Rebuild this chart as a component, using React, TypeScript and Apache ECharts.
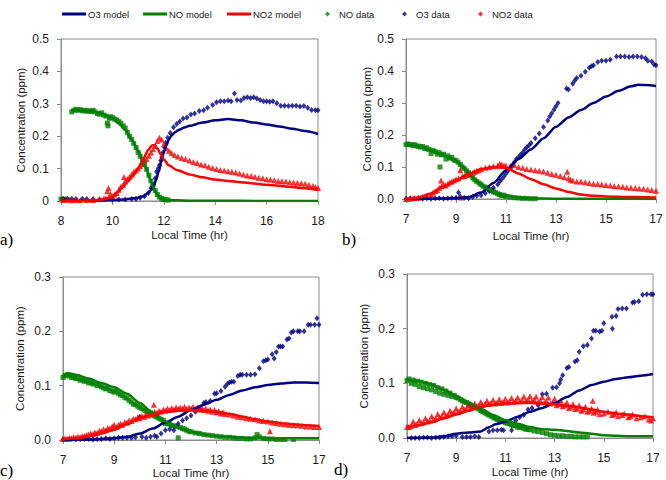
import React, { useEffect, useRef } from "react";
import * as echarts from "echarts";

// ---- colours ----
const NAVY = "#000080";
const GREEN = "#008000";
const RED = "#ff0000";

// ---- axis ticks ----
const X_TICKS_A = [8, 10, 12, 14, 16, 18];
const X_TICKS_BCD = [7, 9, 11, 13, 15, 17];
const Y_TICKS_AB = [0, 0.1, 0.2, 0.3, 0.4, 0.5];
const Y_TICKS_CD = [0, 0.1, 0.2, 0.3];

// ---- panel a ----
const A_O3_MODEL = [[8,0],[8.5,0.001],[9,0.001],[9.5,0.002],[10,0.003],[10.5,0.005],[11,0.01],[11.2,0.015],[11.4,0.025],[11.5,0.033],[11.6,0.045],[11.7,0.065],[11.8,0.09],[11.9,0.12],[12,0.15],[12.1,0.172],[12.2,0.19],[12.3,0.202],[12.45,0.213],[12.6,0.22],[12.8,0.227],[13,0.232],[13.5,0.242],[14,0.249],[14.5,0.253],[15,0.249],[15.5,0.242],[16,0.236],[16.5,0.23],[17,0.223],[17.5,0.216],[18,0.207]];
const A_NO_MODEL = [[8.4,0.28],[8.75,0.28],[9,0.278],[9.5,0.272],[9.75,0.265],[10,0.255],[10.25,0.24],[10.5,0.22],[10.75,0.19],[11,0.155],[11.15,0.132],[11.3,0.105],[11.45,0.07],[11.6,0.04],[11.75,0.018],[11.9,0.007],[12.1,0.003],[12.5,0.002],[13,0.001],[14,0.001],[16,0],[18,0]];
const A_NO2_MODEL = [[8,0],[9,0.001],[9.5,0.003],[9.8,0.008],[10,0.014],[10.2,0.027],[10.4,0.044],[10.6,0.06],[10.8,0.078],[11,0.1],[11.2,0.13],[11.4,0.158],[11.55,0.172],[11.65,0.172],[11.75,0.162],[11.9,0.142],[12,0.128],[12.2,0.11],[12.5,0.096],[13,0.082],[13.5,0.073],[14,0.066],[14.5,0.062],[15,0.058],[15.5,0.054],[16,0.05],[16.5,0.047],[17,0.043],[17.5,0.039],[18,0.034]];
const A_NO_DATA = [[8.0,0.006],[8.08,0.005],[8.17,0.006],[8.25,0.004],[8.42,0.275],[8.5,0.28],[8.58,0.283],[8.67,0.28],[8.75,0.282],[8.83,0.278],[8.92,0.28],[9.0,0.277],[9.08,0.279],[9.17,0.276],[9.25,0.28],[9.33,0.275],[9.42,0.27],[9.5,0.268],[9.58,0.272],[9.67,0.265],[9.75,0.262],[9.8,0.24],[9.83,0.232],[9.88,0.255],[9.92,0.26],[10.0,0.258],[10.08,0.253],[10.17,0.25],[10.25,0.245],[10.33,0.24],[10.42,0.232],[10.5,0.225],[10.58,0.212],[10.67,0.2],[10.75,0.19],[10.83,0.178],[10.92,0.165],[11.0,0.15],[11.08,0.138],[11.17,0.128],[11.25,0.112],[11.33,0.098],[11.42,0.08],[11.5,0.062],[11.58,0.045],[11.67,0.032],[11.75,0.02],[11.83,0.012],[11.92,0.008],[12.0,0.005],[12.08,0.004],[12.17,0.003]];
const A_O3_DATA = [[8.08,0.006],[8.25,0.006],[8.42,0.007],[8.58,0.006],[8.83,0.007],[9.0,0.006],[9.25,0.006],[9.5,0.005],[9.75,0.006],[10.0,0.004],[10.25,0.005],[10.5,0.005],[10.75,0.006],[10.92,0.006],[11.08,0.01],[11.25,0.015],[11.4,0.025],[11.5,0.04],[11.58,0.05],[11.67,0.07],[11.72,0.09],[11.78,0.1],[11.83,0.11],[11.88,0.125],[11.92,0.135],[11.97,0.15],[12.03,0.165],[12.08,0.18],[12.15,0.195],[12.25,0.21],[12.38,0.228],[12.5,0.238],[12.62,0.245],[12.75,0.255],[12.9,0.258],[13.05,0.267],[13.2,0.27],[13.38,0.278],[13.55,0.28],[13.7,0.288],[13.9,0.296],[14.05,0.305],[14.2,0.308],[14.35,0.308],[14.5,0.31],[14.62,0.308],[14.75,0.332],[14.85,0.312],[15.0,0.31],[15.12,0.318],[15.25,0.32],[15.38,0.318],[15.5,0.32],[15.62,0.316],[15.75,0.312],[15.88,0.308],[16.0,0.308],[16.12,0.306],[16.25,0.308],[16.4,0.302],[16.55,0.294],[16.7,0.294],[16.85,0.293],[17.0,0.294],[17.15,0.294],[17.3,0.292],[17.45,0.293],[17.6,0.288],[17.75,0.281],[17.9,0.28],[18.0,0.28]];
const A_NO2_DATA = [[8.08,0.003],[8.25,0.004],[8.42,0.002],[8.58,0.003],[8.75,0.002],[9.0,0.003],[9.25,0.003],[9.5,0.006],[9.67,0.008],[9.8,0.03],[9.85,0.04],[9.92,0.022],[10.0,0.015],[10.08,0.02],[10.17,0.025],[10.25,0.035],[10.33,0.045],[10.42,0.05],[10.45,0.074],[10.5,0.06],[10.58,0.068],[10.67,0.075],[10.75,0.082],[10.83,0.09],[10.92,0.095],[11.0,0.1],[11.08,0.108],[11.17,0.115],[11.25,0.125],[11.33,0.13],[11.42,0.14],[11.5,0.15],[11.58,0.16],[11.67,0.17],[11.75,0.185],[11.83,0.195],[11.92,0.19],[12.0,0.175],[12.1,0.163],[12.2,0.155],[12.3,0.148],[12.42,0.142],[12.55,0.137],[12.7,0.133],[12.85,0.13],[13.0,0.125],[13.15,0.12],[13.3,0.117],[13.45,0.113],[13.6,0.11],[13.75,0.106],[13.9,0.102],[14.05,0.099],[14.2,0.096],[14.35,0.094],[14.5,0.092],[14.65,0.09],[14.8,0.088],[14.95,0.085],[15.1,0.082],[15.25,0.079],[15.4,0.077],[15.55,0.075],[15.7,0.072],[15.85,0.07],[16.0,0.067],[16.15,0.066],[16.3,0.064],[16.45,0.062],[16.6,0.061],[16.75,0.06],[16.9,0.058],[17.05,0.057],[17.2,0.056],[17.35,0.055],[17.5,0.053],[17.65,0.05],[17.8,0.046],[17.9,0.043],[18.0,0.04]];

// ---- panel b ----
const B_O3_MODEL = [[7,0],[8,0.001],[9,0.002],[9.5,0.006],[10,0.02],[10.5,0.05],[11,0.09],[11.5,0.125],[12,0.155],[12.5,0.19],[13,0.226],[13.5,0.255],[14,0.278],[14.5,0.3],[15,0.32],[15.5,0.338],[16,0.352],[16.3,0.357],[16.6,0.356],[17,0.353]];
const B_NO_MODEL = [[7,0.172],[7.5,0.163],[8,0.152],[8.5,0.137],[9,0.118],[9.25,0.103],[9.5,0.083],[9.75,0.062],[10,0.045],[10.25,0.032],[10.5,0.022],[11,0.011],[11.5,0.005],[12,0.002],[13,0.001],[17,0]];
const B_NO2_MODEL = [[7,0.001],[7.5,0.005],[8,0.017],[8.5,0.038],[9,0.058],[9.5,0.078],[10,0.093],[10.5,0.1],[11,0.097],[11.5,0.08],[12,0.062],[12.5,0.046],[13,0.033],[13.5,0.022],[14,0.014],[14.5,0.01],[15,0.008],[16,0.006],[17,0.005]];
const B_NO_DATA = [[7.0,0.17],[7.08,0.172],[7.17,0.17],[7.25,0.168],[7.33,0.17],[7.42,0.166],[7.5,0.165],[7.58,0.162],[7.67,0.164],[7.75,0.158],[7.83,0.16],[7.92,0.155],[8.0,0.142],[8.08,0.152],[8.17,0.148],[8.25,0.14],[8.33,0.145],[8.36,0.1],[8.42,0.138],[8.5,0.14],[8.6,0.125],[8.67,0.135],[8.75,0.128],[8.83,0.13],[8.92,0.122],[9.0,0.12],[9.08,0.115],[9.17,0.108],[9.25,0.1],[9.33,0.095],[9.42,0.088],[9.5,0.082],[9.58,0.074],[9.67,0.066],[9.75,0.06],[9.83,0.055],[9.92,0.05],[10.0,0.045],[10.08,0.04],[10.17,0.037],[10.25,0.033],[10.33,0.03],[10.42,0.026],[10.5,0.022],[10.58,0.02],[10.67,0.016],[10.75,0.014],[10.83,0.01],[10.92,0.012],[11.0,0.008],[11.17,0.006],[11.33,0.004],[11.5,0.003],[11.67,0.002],[11.83,0.002],[12.0,0.001],[12.17,0.001]];
const B_O3_DATA = [[7.0,0.001],[7.17,0.002],[7.33,0.001],[7.5,0.002],[7.67,0.001],[7.83,0.002],[8.0,0.001],[8.17,0.002],[8.33,0.002],[8.5,0.001],[8.67,0.002],[8.83,0.003],[9.0,0.004],[9.1,0.02],[9.17,0.008],[9.33,0.004],[9.5,0.002],[9.67,0.006],[9.83,0.01],[10.0,0.012],[10.17,0.018],[10.33,0.025],[10.5,0.035],[10.67,0.045],[10.75,0.055],[10.83,0.062],[10.92,0.07],[11.0,0.08],[11.08,0.088],[11.17,0.097],[11.25,0.105],[11.33,0.115],[11.42,0.125],[11.5,0.13],[11.58,0.138],[11.67,0.145],[11.75,0.155],[11.83,0.162],[11.92,0.168],[12.0,0.175],[12.17,0.19],[12.33,0.205],[12.5,0.225],[12.67,0.245],[12.75,0.258],[12.83,0.268],[12.92,0.28],[13.0,0.29],[13.08,0.3],[13.42,0.345],[13.5,0.342],[13.67,0.36],[13.75,0.37],[13.83,0.378],[14.0,0.385],[14.17,0.398],[14.33,0.41],[14.42,0.415],[14.5,0.418],[14.67,0.428],[14.83,0.432],[15.0,0.432],[15.17,0.435],[15.42,0.445],[15.58,0.445],[15.75,0.445],[15.92,0.444],[16.08,0.445],[16.25,0.445],[16.42,0.444],[16.58,0.44],[16.67,0.432],[16.83,0.43],[16.92,0.42],[17.0,0.418]];
const B_NO2_DATA = [[7.0,0.0],[7.17,0.001],[7.33,0.003],[7.5,0.004],[7.67,0.006],[7.83,0.01],[8.0,0.015],[8.08,0.02],[8.17,0.025],[8.25,0.028],[8.33,0.035],[8.4,0.058],[8.42,0.04],[8.5,0.045],[8.58,0.042],[8.67,0.048],[8.75,0.052],[8.83,0.055],[8.92,0.058],[9.0,0.062],[9.1,0.065],[9.17,0.09],[9.2,0.005],[9.25,0.07],[9.33,0.072],[9.42,0.075],[9.5,0.078],[9.58,0.08],[9.67,0.082],[9.75,0.085],[9.83,0.088],[9.92,0.09],[10.0,0.094],[10.17,0.098],[10.33,0.1],[10.5,0.102],[10.67,0.105],[10.75,0.11],[10.83,0.108],[10.92,0.104],[11.0,0.105],[11.17,0.103],[11.33,0.106],[11.5,0.1],[11.67,0.098],[11.83,0.094],[12.0,0.092],[12.17,0.09],[12.33,0.088],[12.5,0.086],[12.67,0.082],[12.83,0.078],[13.0,0.076],[13.17,0.072],[13.33,0.068],[13.45,0.085],[13.5,0.065],[13.58,0.06],[13.67,0.058],[13.83,0.055],[14.0,0.055],[14.17,0.052],[14.33,0.05],[14.5,0.048],[14.67,0.047],[14.83,0.045],[15.0,0.044],[15.17,0.042],[15.33,0.04],[15.5,0.04],[15.67,0.038],[15.83,0.036],[16.0,0.035],[16.17,0.034],[16.33,0.033],[16.5,0.032],[16.67,0.03],[16.83,0.028],[17.0,0.026]];

// ---- panel c ----
const C_O3_MODEL = [[7,0],[8,0.001],[9,0.003],[9.5,0.006],[10,0.012],[10.5,0.021],[11,0.032],[11.5,0.043],[12,0.055],[12.5,0.065],[13,0.074],[13.5,0.083],[14,0.091],[14.5,0.097],[15,0.101],[15.5,0.104],[16,0.106],[16.5,0.106],[17,0.105]];
const C_NO_MODEL = [[7,0.12],[7.2,0.123],[7.5,0.12],[8,0.113],[8.5,0.105],[9,0.097],[9.5,0.085],[10,0.068],[10.5,0.05],[11,0.034],[11.5,0.023],[12,0.015],[12.5,0.01],[13,0.007],[14,0.004],[15,0.003],[16,0.003],[17,0.003]];
const C_NO2_MODEL = [[7,0.001],[7.5,0.003],[8,0.007],[8.5,0.012],[9,0.019],[9.5,0.029],[10,0.04],[10.5,0.047],[11,0.052],[11.5,0.054],[12,0.055],[12.5,0.054],[13,0.052],[13.5,0.048],[14,0.043],[14.5,0.038],[15,0.034],[15.5,0.031],[16,0.029],[16.5,0.027],[17,0.026]];
const C_NO_DATA = [[7.0,0.115],[7.08,0.118],[7.17,0.12],[7.25,0.118],[7.33,0.115],[7.42,0.116],[7.5,0.113],[7.58,0.114],[7.67,0.11],[7.75,0.111],[7.83,0.108],[7.92,0.109],[8.0,0.105],[8.08,0.106],[8.17,0.103],[8.25,0.104],[8.33,0.1],[8.42,0.101],[8.5,0.098],[8.58,0.096],[8.67,0.094],[8.75,0.095],[8.83,0.091],[8.92,0.09],[9.0,0.088],[9.08,0.09],[9.17,0.086],[9.25,0.083],[9.33,0.082],[9.42,0.078],[9.5,0.077],[9.58,0.073],[9.67,0.07],[9.75,0.066],[9.83,0.065],[9.92,0.062],[10.0,0.06],[10.08,0.058],[10.17,0.055],[10.25,0.053],[10.33,0.052],[10.42,0.05],[10.5,0.046],[10.58,0.044],[10.67,0.042],[10.75,0.04],[10.83,0.038],[10.92,0.036],[11.0,0.03],[11.08,0.031],[11.17,0.029],[11.25,0.027],[11.33,0.026],[11.42,0.025],[11.5,0.004],[11.58,0.023],[11.67,0.021],[11.75,0.02],[11.83,0.018],[11.92,0.016],[12.0,0.015],[12.17,0.013],[12.33,0.012],[12.5,0.01],[12.67,0.009],[12.83,0.008],[13.0,0.007],[13.17,0.006],[13.33,0.005],[13.5,0.005],[13.67,0.004],[13.83,0.003],[14.0,0.003],[14.17,0.002],[14.33,0.002],[14.5,0.004],[14.58,0.01],[14.67,0.006],[14.83,0.003],[15.0,0.002],[15.17,0.002],[15.33,0.001],[15.5,0.001],[15.67,0.001],[16.0,0.001]];
const C_O3_DATA = [[7.0,0.001],[7.17,0.001],[7.33,0.002],[7.5,0.001],[7.67,0.002],[7.83,0.002],[8.0,0.002],[8.17,0.001],[8.33,0.002],[8.5,0.002],[8.67,0.003],[8.83,0.002],[9.0,0.003],[9.17,0.004],[9.33,0.004],[9.5,0.004],[9.67,0.004],[9.83,0.005],[10.0,0.043],[10.08,0.006],[10.25,0.004],[10.42,0.006],[10.58,0.008],[10.67,0.006],[10.83,0.012],[11.0,0.018],[11.17,0.02],[11.33,0.018],[11.5,0.03],[11.67,0.036],[11.83,0.04],[12.0,0.045],[12.17,0.052],[12.33,0.058],[12.5,0.068],[12.58,0.07],[12.75,0.072],[12.92,0.085],[13.0,0.086],[13.17,0.09],[13.33,0.098],[13.42,0.103],[13.5,0.106],[13.58,0.107],[13.67,0.107],[13.83,0.118],[13.92,0.12],[14.0,0.12],[14.17,0.12],[14.33,0.12],[14.5,0.121],[14.67,0.132],[14.83,0.145],[14.92,0.147],[15.0,0.148],[15.17,0.158],[15.25,0.15],[15.33,0.162],[15.42,0.172],[15.5,0.172],[15.58,0.172],[15.75,0.185],[15.83,0.187],[15.92,0.198],[16.0,0.2],[16.17,0.2],[16.25,0.2],[16.42,0.2],[16.58,0.212],[16.67,0.212],[16.83,0.212],[16.92,0.224],[17.0,0.212]];
const C_NO2_DATA = [[7.0,0.002],[7.08,0.003],[7.17,0.002],[7.25,0.004],[7.33,0.003],[7.42,0.005],[7.5,0.004],[7.58,0.006],[7.67,0.005],[7.75,0.007],[7.83,0.008],[7.92,0.009],[8.0,0.01],[8.08,0.012],[8.17,0.011],[8.25,0.014],[8.33,0.013],[8.42,0.017],[8.5,0.016],[8.58,0.02],[8.67,0.018],[8.75,0.022],[8.83,0.021],[8.92,0.025],[9.0,0.028],[9.08,0.024],[9.17,0.028],[9.25,0.03],[9.33,0.028],[9.42,0.033],[9.5,0.032],[9.58,0.036],[9.67,0.035],[9.75,0.039],[9.83,0.038],[9.92,0.042],[10.0,0.04],[10.08,0.044],[10.17,0.043],[10.25,0.047],[10.33,0.045],[10.42,0.05],[10.5,0.048],[10.55,0.065],[10.58,0.052],[10.67,0.05],[10.75,0.054],[10.83,0.052],[10.92,0.056],[11.0,0.054],[11.08,0.058],[11.17,0.055],[11.25,0.059],[11.33,0.056],[11.42,0.06],[11.5,0.057],[11.58,0.06],[11.67,0.058],[11.75,0.061],[11.83,0.057],[11.92,0.06],[12.0,0.058],[12.08,0.061],[12.17,0.057],[12.25,0.06],[12.33,0.056],[12.42,0.059],[12.5,0.055],[12.58,0.058],[12.67,0.054],[12.75,0.056],[12.83,0.052],[12.92,0.055],[13.0,0.051],[13.08,0.053],[13.17,0.049],[13.25,0.051],[13.33,0.048],[13.5,0.047],[13.67,0.045],[13.83,0.043],[14.0,0.042],[14.17,0.04],[14.33,0.039],[14.5,0.038],[14.67,0.036],[14.83,0.035],[15.0,0.034],[15.08,0.016],[15.17,0.032],[15.33,0.031],[15.5,0.03],[15.67,0.029],[15.83,0.028],[16.0,0.027],[16.17,0.027],[16.33,0.026],[16.5,0.025],[16.67,0.025],[16.83,0.024],[17.0,0.024]];

// ---- panel d ----
const D_O3_MODEL = [[7,0],[8,0.001],[8.5,0.003],[9,0.008],[9.5,0.01],[10,0.012],[10.3,0.019],[10.6,0.025],[11,0.03],[11.5,0.039],[12,0.048],[12.5,0.055],[13,0.064],[13.5,0.075],[14,0.087],[14.5,0.097],[15,0.103],[15.5,0.108],[16,0.111],[16.5,0.114],[17,0.117]];
const D_NO_MODEL = [[7,0.107],[7.5,0.104],[8,0.098],[8.5,0.088],[9,0.077],[9.5,0.065],[10,0.053],[10.5,0.042],[11,0.033],[11.5,0.026],[12,0.02],[12.5,0.016],[13,0.015],[13.5,0.013],[14,0.01],[14.5,0.008],[15,0.005],[15.5,0.004],[16,0.003],[17,0.003]];
const D_NO2_MODEL = [[7,0.02],[7.5,0.024],[8,0.029],[8.5,0.036],[9,0.043],[9.5,0.05],[10,0.057],[10.5,0.061],[11,0.063],[11.5,0.064],[12,0.064],[12.5,0.063],[13,0.062],[13.5,0.059],[14,0.056],[14.5,0.052],[15,0.048],[15.5,0.045],[16,0.043],[16.5,0.04],[17,0.038]];
const D_NO_DATA = [[7.0,0.105],[7.08,0.108],[7.17,0.1],[7.25,0.106],[7.33,0.098],[7.42,0.104],[7.5,0.094],[7.58,0.102],[7.67,0.092],[7.75,0.1],[7.83,0.09],[7.92,0.098],[8.0,0.088],[8.08,0.096],[8.17,0.085],[8.25,0.092],[8.33,0.082],[8.42,0.09],[8.5,0.08],[8.58,0.086],[8.67,0.078],[8.75,0.082],[8.83,0.076],[8.92,0.078],[9.0,0.074],[9.08,0.073],[9.17,0.07],[9.25,0.068],[9.33,0.066],[9.42,0.065],[9.5,0.062],[9.58,0.06],[9.67,0.058],[9.75,0.056],[9.83,0.055],[9.92,0.053],[10.0,0.05],[10.08,0.048],[10.17,0.046],[10.25,0.044],[10.33,0.042],[10.42,0.04],[10.5,0.038],[10.58,0.036],[10.67,0.034],[10.75,0.032],[10.83,0.03],[10.92,0.03],[11.0,0.028],[11.08,0.027],[11.17,0.026],[11.25,0.024],[11.33,0.023],[11.42,0.022],[11.5,0.02],[11.58,0.02],[11.67,0.019],[11.75,0.018],[11.83,0.016],[11.92,0.016],[12.0,0.015],[12.17,0.013],[12.33,0.012],[12.5,0.01],[12.67,0.008],[12.83,0.006],[13.0,0.005],[13.17,0.004],[13.33,0.004],[13.5,0.003],[13.67,0.003],[13.83,0.002],[14.0,0.002],[14.17,0.002],[14.33,0.002]];
const D_O3_DATA = [[7.17,0.0],[7.33,0.0],[7.5,0.0],[7.67,0.001],[7.83,0.001],[8.0,0.0],[8.17,0.001],[8.33,0.001],[8.5,0.002],[8.67,0.003],[8.83,0.003],[9.0,0.004],[9.25,0.002],[9.42,0.002],[9.58,0.002],[9.75,0.003],[9.92,0.002],[10.33,0.012],[10.5,0.014],[10.67,0.014],[10.83,0.015],[10.92,0.014],[11.25,0.014],[11.42,0.032],[11.58,0.038],[11.75,0.042],[11.92,0.052],[12.08,0.055],[12.33,0.06],[12.5,0.08],[12.67,0.081],[12.92,0.092],[13.08,0.093],[13.2,0.1],[13.25,0.107],[13.33,0.115],[13.5,0.128],[13.58,0.13],[13.83,0.14],[13.92,0.142],[14.0,0.158],[14.17,0.168],[14.33,0.17],[14.5,0.182],[14.58,0.196],[14.67,0.196],[14.83,0.195],[14.92,0.196],[15.0,0.21],[15.33,0.222],[15.35,0.2],[15.5,0.223],[15.58,0.236],[15.75,0.237],[15.92,0.237],[16.17,0.248],[16.25,0.249],[16.42,0.25],[16.58,0.262],[16.75,0.263],[16.92,0.263],[17.0,0.263]];
const D_NO2_DATA = [[7.0,0.02],[7.08,0.02],[7.17,0.022],[7.25,0.03],[7.33,0.024],[7.42,0.026],[7.5,0.033],[7.58,0.027],[7.67,0.029],[7.75,0.036],[7.83,0.03],[7.92,0.032],[8.0,0.04],[8.08,0.034],[8.17,0.036],[8.25,0.044],[8.33,0.038],[8.42,0.04],[8.5,0.047],[8.58,0.041],[8.67,0.043],[8.75,0.05],[8.83,0.045],[8.92,0.047],[9.0,0.054],[9.08,0.048],[9.17,0.05],[9.25,0.057],[9.33,0.052],[9.42,0.054],[9.5,0.06],[9.58,0.055],[9.67,0.057],[9.75,0.063],[9.83,0.058],[9.92,0.06],[10.0,0.066],[10.08,0.06],[10.17,0.062],[10.25,0.068],[10.33,0.062],[10.42,0.064],[10.5,0.07],[10.58,0.063],[10.67,0.065],[10.75,0.071],[10.83,0.064],[10.92,0.066],[11.0,0.072],[11.08,0.065],[11.17,0.067],[11.25,0.073],[11.33,0.066],[11.42,0.068],[11.5,0.074],[11.58,0.067],[11.67,0.069],[11.75,0.076],[11.83,0.068],[11.92,0.07],[12.0,0.077],[12.08,0.068],[12.17,0.07],[12.25,0.076],[12.33,0.066],[12.42,0.068],[12.5,0.075],[12.58,0.065],[12.67,0.067],[12.75,0.074],[12.83,0.063],[12.92,0.065],[13.0,0.072],[13.08,0.06],[13.17,0.062],[13.25,0.068],[13.33,0.058],[13.42,0.06],[13.5,0.065],[13.58,0.055],[13.67,0.057],[13.75,0.062],[13.83,0.053],[13.92,0.054],[14.0,0.06],[14.08,0.05],[14.17,0.052],[14.25,0.057],[14.33,0.048],[14.42,0.05],[14.5,0.054],[14.55,0.068],[14.58,0.046],[14.67,0.048],[14.75,0.052],[14.83,0.044],[15.0,0.045],[15.17,0.048],[15.33,0.042],[15.42,0.044],[15.5,0.047],[15.58,0.04],[15.75,0.042],[15.83,0.045],[16.0,0.038],[16.08,0.04],[16.17,0.043],[16.33,0.036],[16.5,0.038],[16.67,0.04],[16.83,0.034],[16.92,0.032],[17.0,0.036]];

const SANS = "Liberation Sans, Arial, sans-serif";
const SERIF = "Liberation Serif, Times New Roman, serif";
const FRAME = "#8c8c8c";
const INK = "#1a1a1a";

type Panel = {
  grid: { left: number; top: number; width: number; height: number };
  xMin: number; xMax: number; xTicks: number[];
  yMax: number; yTicks: number[]; zeroAsInt: boolean;
  xNameGap: number; yNameGap: number;
  no: number[][]; o3: number[][]; no2: number[][];
  o3m: number[][]; nom: number[][]; no2m: number[][];
};

const PANELS: Panel[] = [
  { grid: { left: 61, top: 39, width: 257, height: 162 }, xMin: 8, xMax: 18, xTicks: X_TICKS_A, yMax: 0.5, yTicks: Y_TICKS_AB, zeroAsInt: true, xNameGap: 28, yNameGap: 34,
    no: A_NO_DATA, o3: A_O3_DATA, no2: A_NO2_DATA, o3m: A_O3_MODEL, nom: A_NO_MODEL, no2m: A_NO2_MODEL },
  { grid: { left: 406, top: 39, width: 250, height: 160 }, xMin: 7, xMax: 17, xTicks: X_TICKS_BCD, yMax: 0.5, yTicks: Y_TICKS_AB, zeroAsInt: false, xNameGap: 31, yNameGap: 33,
    no: B_NO_DATA, o3: B_O3_DATA, no2: B_NO2_DATA, o3m: B_O3_MODEL, nom: B_NO_MODEL, no2m: B_NO2_MODEL },
  { grid: { left: 63, top: 277, width: 256, height: 163 }, xMin: 7, xMax: 17, xTicks: X_TICKS_BCD, yMax: 0.3, yTicks: Y_TICKS_CD, zeroAsInt: false, xNameGap: 26, yNameGap: 37,
    no: C_NO_DATA, o3: C_O3_DATA, no2: C_NO2_DATA, o3m: C_O3_MODEL, nom: C_NO_MODEL, no2m: C_NO2_MODEL },
  { grid: { left: 407, top: 274, width: 246, height: 164 }, xMin: 7, xMax: 17, xTicks: X_TICKS_BCD, yMax: 0.3, yTicks: Y_TICKS_CD, zeroAsInt: false, xNameGap: 28, yNameGap: 37,
    no: D_NO_DATA, o3: D_O3_DATA, no2: D_NO2_DATA, o3m: D_O3_MODEL, nom: D_NO_MODEL, no2m: D_NO2_MODEL },
];

function buildOption() {
  const grid: any[] = [];
  const xAxis: any[] = [];
  const yAxis: any[] = [];
  const series: any[] = [];

  PANELS.forEach((p, i) => {
    grid.push({ ...p.grid, show: true, borderColor: FRAME, borderWidth: 1, backgroundColor: "#fff" });
    xAxis.push({
      type: "value", gridIndex: i, min: p.xMin, max: p.xMax,
      name: "Local Time (hr)", nameLocation: "middle", nameGap: p.xNameGap,
      nameTextStyle: { fontFamily: SANS, fontSize: 11.5, color: INK },
      axisLine: { show: true, lineStyle: { color: FRAME, width: 1 } },
      axisTick: { show: true, inside: false, length: 4, lineStyle: { color: FRAME }, customValues: p.xTicks },
      axisLabel: { margin: 14, fontFamily: SANS, fontSize: 12, color: INK, customValues: p.xTicks, formatter: (v: number) => String(v) },
      splitLine: { show: false },
    });
    yAxis.push({
      type: "value", gridIndex: i, min: 0, max: p.yMax,
      name: "Concentration (ppm)", nameLocation: "middle", nameGap: p.yNameGap, nameRotate: 90,
      nameTextStyle: { fontFamily: SANS, fontSize: 11.5, color: INK },
      axisLine: { show: true, lineStyle: { color: FRAME, width: 1 } },
      axisTick: { show: true, inside: false, length: 4, lineStyle: { color: FRAME }, customValues: p.yTicks },
      axisLabel: {
        margin: 12, fontFamily: SANS, fontSize: 12, color: INK, customValues: p.yTicks,
        formatter: (v: number) => (p.zeroAsInt && v === 0 ? "0" : v.toFixed(1)),
      },
      splitLine: { show: false },
    });

    const scatter = (name: string, data: number[][], symbol: string, size: any, color: string) => ({
      type: "scatter", name, xAxisIndex: i, yAxisIndex: i, data, symbol, symbolSize: size,
      itemStyle: { color }, z: 2, silent: true,
    });
    const line = (name: string, data: number[][], color: string) => ({
      type: "line", name, xAxisIndex: i, yAxisIndex: i, data, symbol: "none", showSymbol: false,
      smooth: 0.25, smoothMonotone: "x", lineStyle: { color, width: 2.5 }, itemStyle: { color }, z: 3, silent: true,
    });

    series.push(scatter("NO data", p.no, "rect", 5, GREEN));
    series.push(scatter("O3 data", p.o3, "diamond", [5, 6], NAVY));
    series.push(scatter("NO2 data", p.no2, "triangle", 6, RED));
    series.push(line("O3 model", p.o3m, NAVY));
    series.push(line("NO model", p.nom, GREEN));
    series.push(line("NO2 model", p.no2m, RED));
  });

  const legendText = { fontFamily: SANS, fontSize: 9.5, color: INK };
  // model entries: a plain stroke as the key
  const lineLegend = (name: string, left: number) => ({
    show: true, left, top: 4, itemWidth: 24, itemHeight: 3, selectedMode: false,
    data: [{ name, icon: "rect" }], textStyle: { ...legendText, padding: [0, 0, 0, -3] },
  });
  // measured entries: a small diamond as the key
  const dotLegend = (name: string, left: number) => ({
    show: true, left, top: 4, itemWidth: 5, itemHeight: 5, selectedMode: false,
    data: [{ name, icon: "diamond" }], textStyle: { ...legendText, padding: [0, 0, 0, 4] },
  });

  const legend = [
    lineLegend("O3 model", 57),
    lineLegend("NO model", 138),
    lineLegend("NO2 model", 222),
    dotLegend("NO data", 320),
    dotLegend("O3 data", 397),
    dotLegend("NO2 data", 473),
  ];

  const panelLabel = (text: string, x: number, y: number) => ({
    type: "text", left: x, top: y,
    style: { text, fontFamily: SERIF, fontSize: 17, fill: "#000" },
  });

  return {
    animation: false,
    backgroundColor: "#fff",
    grid, xAxis, yAxis, series, legend,
    graphic: [
      panelLabel("a)", 0, 231),
      panelLabel("b)", 342, 231),
      panelLabel("c)", 0, 462),
      panelLabel("d)", 334, 461),
    ],
  };
}

export default function App() {
  const ref = useRef<HTMLDivElement>(null);
  useEffect(() => {
    if (!ref.current) return;
    const chart = echarts.init(ref.current, undefined, { renderer: "svg" });
    chart.setOption(buildOption());
    return () => chart.dispose();
  }, []);
  return <div ref={ref} style={{ position: "absolute", left: 0, top: 0, width: 666, height: 480 }} />;
}
